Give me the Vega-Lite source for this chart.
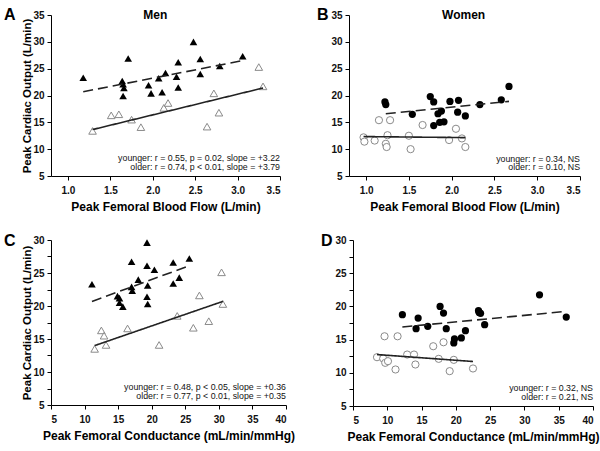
{
"$schema":"https://vega.github.io/schema/vega-lite/v6.json",
"padding":{"left":3,"top":7,"right":3,"bottom":3},
"spacing":21,
"datasets":{
"pts":[
{"p":"A","g":"younger","x":1.18,"y":23.3},{"p":"A","g":"younger","x":1.64,"y":22.7},{"p":"A","g":"younger","x":1.65,"y":22.1},{"p":"A","g":"younger","x":1.66,"y":21.4},{"p":"A","g":"younger","x":1.65,"y":19.9},{"p":"A","g":"younger","x":1.71,"y":26.9},{"p":"A","g":"younger","x":1.95,"y":21.9},{"p":"A","g":"younger","x":1.98,"y":20.4},{"p":"A","g":"younger","x":2.07,"y":23.2},{"p":"A","g":"younger","x":2.11,"y":20.6},{"p":"A","g":"younger","x":2.15,"y":24.2},{"p":"A","g":"younger","x":2.28,"y":23.5},{"p":"A","g":"younger","x":2.30,"y":26.2},{"p":"A","g":"younger","x":2.30,"y":21.5},{"p":"A","g":"younger","x":2.48,"y":30.0},{"p":"A","g":"younger","x":2.56,"y":26.8},{"p":"A","g":"younger","x":2.56,"y":24.0},{"p":"A","g":"younger","x":2.79,"y":25.5},{"p":"A","g":"younger","x":3.06,"y":27.3},
{"p":"A","g":"older","x":1.29,"y":13.4},{"p":"A","g":"older","x":1.51,"y":16.3},{"p":"A","g":"older","x":1.60,"y":16.5},{"p":"A","g":"older","x":1.75,"y":15.5},{"p":"A","g":"older","x":1.86,"y":14.1},{"p":"A","g":"older","x":2.13,"y":17.7},{"p":"A","g":"older","x":2.18,"y":18.6},{"p":"A","g":"older","x":2.64,"y":14.2},{"p":"A","g":"older","x":2.72,"y":20.4},{"p":"A","g":"older","x":2.78,"y":16.8},{"p":"A","g":"older","x":3.25,"y":25.3},{"p":"A","g":"older","x":3.30,"y":21.7},
{"p":"B","g":"younger","x":1.22,"y":18.8},{"p":"B","g":"younger","x":1.23,"y":18.3},{"p":"B","g":"younger","x":1.54,"y":16.5},{"p":"B","g":"younger","x":1.75,"y":19.8},{"p":"B","g":"younger","x":1.79,"y":18.8},{"p":"B","g":"younger","x":1.79,"y":14.4},{"p":"B","g":"younger","x":1.84,"y":16.6},{"p":"B","g":"younger","x":1.88,"y":17.1},{"p":"B","g":"younger","x":1.86,"y":15.0},{"p":"B","g":"younger","x":1.91,"y":15.1},{"p":"B","g":"younger","x":1.98,"y":18.9},{"p":"B","g":"younger","x":2.08,"y":19.1},{"p":"B","g":"younger","x":2.07,"y":16.9},{"p":"B","g":"younger","x":2.16,"y":16.2},{"p":"B","g":"younger","x":2.33,"y":18.3},{"p":"B","g":"younger","x":2.58,"y":19.2},{"p":"B","g":"younger","x":2.67,"y":21.7},
{"p":"B","g":"older","x":0.97,"y":12.2},{"p":"B","g":"older","x":0.98,"y":11.4},{"p":"B","g":"older","x":1.10,"y":11.6},{"p":"B","g":"older","x":1.15,"y":15.4},{"p":"B","g":"older","x":1.25,"y":12.6},{"p":"B","g":"older","x":1.23,"y":11.0},{"p":"B","g":"older","x":1.24,"y":10.4},{"p":"B","g":"older","x":1.28,"y":15.4},{"p":"B","g":"older","x":1.50,"y":12.5},{"p":"B","g":"older","x":1.52,"y":10.0},{"p":"B","g":"older","x":1.66,"y":14.5},{"p":"B","g":"older","x":1.97,"y":11.7},{"p":"B","g":"older","x":2.05,"y":13.8},{"p":"B","g":"older","x":2.12,"y":12.0},{"p":"B","g":"older","x":2.16,"y":10.4},
{"p":"C","g":"younger","x":11.1,"y":23.3},{"p":"C","g":"younger","x":14.9,"y":21.5},{"p":"C","g":"younger","x":15.2,"y":21.2},{"p":"C","g":"younger","x":15.2,"y":20.5},{"p":"C","g":"younger","x":15.7,"y":19.9},{"p":"C","g":"younger","x":17.0,"y":26.7},{"p":"C","g":"younger","x":17.0,"y":22.9},{"p":"C","g":"younger","x":17.1,"y":22.3},{"p":"C","g":"younger","x":18.0,"y":24.0},{"p":"C","g":"younger","x":19.3,"y":29.6},{"p":"C","g":"younger","x":19.3,"y":26.1},{"p":"C","g":"younger","x":19.4,"y":23.1},{"p":"C","g":"younger","x":19.3,"y":21.4},{"p":"C","g":"younger","x":19.4,"y":20.3},{"p":"C","g":"younger","x":20.4,"y":25.5},{"p":"C","g":"younger","x":23.2,"y":26.6},{"p":"C","g":"younger","x":23.2,"y":23.4},{"p":"C","g":"younger","x":24.1,"y":24.3},{"p":"C","g":"younger","x":25.6,"y":27.2},
{"p":"C","g":"older","x":11.5,"y":13.5},{"p":"C","g":"older","x":12.5,"y":16.3},{"p":"C","g":"older","x":12.9,"y":15.5},{"p":"C","g":"older","x":13.2,"y":14.1},{"p":"C","g":"older","x":16.4,"y":16.6},{"p":"C","g":"older","x":21.1,"y":14.1},{"p":"C","g":"older","x":23.8,"y":18.5},{"p":"C","g":"older","x":26.2,"y":16.7},{"p":"C","g":"older","x":27.1,"y":21.6},{"p":"C","g":"older","x":28.5,"y":17.7},{"p":"C","g":"older","x":30.4,"y":25.1},{"p":"C","g":"older","x":30.6,"y":20.3},
{"p":"D","g":"younger","x":12.2,"y":18.75},{"p":"D","g":"younger","x":14.5,"y":18.25},{"p":"D","g":"younger","x":14.2,"y":16.65},{"p":"D","g":"younger","x":15.9,"y":17.0},{"p":"D","g":"younger","x":17.7,"y":20.0},{"p":"D","g":"younger","x":18.2,"y":19.0},{"p":"D","g":"younger","x":18.6,"y":16.65},{"p":"D","g":"younger","x":19.7,"y":14.5},{"p":"D","g":"younger","x":19.8,"y":15.1},{"p":"D","g":"younger","x":20.8,"y":15.25},{"p":"D","g":"younger","x":21.4,"y":16.35},{"p":"D","g":"younger","x":23.3,"y":19.35},{"p":"D","g":"younger","x":23.6,"y":18.95},{"p":"D","g":"younger","x":23.4,"y":19.1},{"p":"D","g":"younger","x":24.2,"y":17.25},{"p":"D","g":"younger","x":32.2,"y":21.75},{"p":"D","g":"younger","x":36.1,"y":18.4},
{"p":"D","g":"older","x":8.5,"y":12.35},{"p":"D","g":"older","x":9.4,"y":12.15},{"p":"D","g":"older","x":9.6,"y":15.5},{"p":"D","g":"older","x":9.7,"y":11.5},{"p":"D","g":"older","x":10.1,"y":11.75},{"p":"D","g":"older","x":11.2,"y":10.5},{"p":"D","g":"older","x":11.5,"y":15.5},{"p":"D","g":"older","x":12.9,"y":12.75},{"p":"D","g":"older","x":13.9,"y":12.75},{"p":"D","g":"older","x":14.1,"y":11.25},{"p":"D","g":"older","x":16.7,"y":14.0},{"p":"D","g":"older","x":18.2,"y":14.6},{"p":"D","g":"older","x":17.5,"y":12.1},{"p":"D","g":"older","x":19.1,"y":10.25},{"p":"D","g":"older","x":19.7,"y":11.95},{"p":"D","g":"older","x":22.5,"y":10.65}
],
"fits":[
{"p":"A","g":"younger","x":1.18,"y":20.7},{"p":"A","g":"younger","x":3.06,"y":26.5},{"p":"A","g":"older","x":1.29,"y":13.65},{"p":"A","g":"older","x":3.30,"y":21.4},
{"p":"B","g":"younger","x":1.23,"y":16.6},{"p":"B","g":"younger","x":2.67,"y":18.9},{"p":"B","g":"older","x":0.97,"y":12.35},{"p":"B","g":"older","x":2.16,"y":12.15},
{"p":"C","g":"younger","x":11.1,"y":20.7},{"p":"C","g":"younger","x":25.6,"y":26.1},{"p":"C","g":"older","x":11.5,"y":14.0},{"p":"C","g":"older","x":30.6,"y":20.7},
{"p":"D","g":"younger","x":12.2,"y":16.9},{"p":"D","g":"younger","x":36.1,"y":19.25},{"p":"D","g":"older","x":8.5,"y":12.75},{"p":"D","g":"older","x":22.5,"y":11.7}
],
"notes":[
{"p":"A","t":"younger: r = 0.55, p = 0.02, slope = +3.22","x":3.5,"y":8.4},{"p":"A","t":"older: r = 0.74, p < 0.01, slope = +3.79","x":3.5,"y":6.6},
{"p":"B","t":"younger: r = 0.34, NS","x":3.5,"y":8.25},{"p":"B","t":"older: r = 0.10, NS","x":3.5,"y":6.6},
{"p":"C","t":"younger: r = 0.48, p < 0.05, slope = +0.36","x":40,"y":7.8},{"p":"C","t":"older: r = 0.77, p < 0.01, slope = +0.35","x":40,"y":6.4},
{"p":"D","t":"younger: r = 0.32, NS","x":40,"y":7.75},{"p":"D","t":"older: r = 0.21, NS","x":40,"y":6.4}
],
"heads":[{"p":"A","t":"Men","x":2.03,"y":35},{"p":"B","t":"Women","x":2.14,"y":35}]
},
"vconcat":[
{"spacing":35,"hconcat":[
{"width":229,"height":161,
"title":{"text":"A","anchor":"start","frame":"bounds","dx":-18,"offset":-14},
"encoding":{
"x":{"field":"x","type":"quantitative","scale":{"domain":[0.8,3.5],"nice":false,"zero":false},"axis":{"values":[1,1.5,2,2.5,3,3.5],"format":".1f","title":"Peak Femoral Blood Flow (L/min)"}},
"y":{"field":"y","type":"quantitative","scale":{"domain":[5,35],"nice":false,"zero":false},"axis":{"values":[5,10,15,20,25,30,35],"title":"Peak Cardiac Output (L/min)"}}},
"layer":[
{"data":{"name":"pts"},"transform":[{"filter":"datum.p==='A' && datum.g==='older'"}],"mark":{"type":"point","shape":"triangle-up","filled":true,"fill":"white","stroke":"#8a8a8a","strokeWidth":1,"size":58,"opacity":1}},
{"data":{"name":"pts"},"transform":[{"filter":"datum.p==='A' && datum.g==='younger'"}],"mark":{"type":"point","shape":"triangle-up","filled":true,"color":"#000","size":58,"opacity":1}},
{"data":{"name":"fits"},"transform":[{"filter":"datum.p==='A'"}],"mark":{"type":"line","color":"#222","strokeWidth":1.6},"encoding":{"detail":{"field":"g"},"strokeDash":{"field":"g","type":"nominal","scale":{"domain":["younger","older"],"range":[[10,5],[1,0]]},"legend":null}}},
{"data":{"name":"notes"},"transform":[{"filter":"datum.p==='A'"}],"mark":{"type":"text","align":"right","baseline":"middle","fontSize":8.8,"color":"#111"},"encoding":{"text":{"field":"t"}}},
{"data":{"name":"heads"},"transform":[{"filter":"datum.p==='A'"}],"mark":{"type":"text","align":"center","baseline":"middle","fontSize":12,"fontWeight":"bold","color":"#000"},"encoding":{"text":{"field":"t"}}}
]},
{"width":231,"height":161,
"title":{"text":"B","anchor":"start","frame":"bounds","dx":-14,"offset":-14},
"encoding":{
"x":{"field":"x","type":"quantitative","scale":{"domain":[0.8,3.5],"nice":false,"zero":false},"axis":{"values":[1,1.5,2,2.5,3,3.5],"format":".1f","title":"Peak Femoral Blood Flow (L/min)"}},
"y":{"field":"y","type":"quantitative","scale":{"domain":[5,35],"nice":false,"zero":false},"axis":{"values":[5,10,15,20,25,30,35],"title":null}}},
"layer":[
{"data":{"name":"pts"},"transform":[{"filter":"datum.p==='B' && datum.g==='older'"}],"mark":{"type":"point","shape":"circle","filled":true,"fill":"white","stroke":"#8a8a8a","strokeWidth":1,"size":52,"opacity":1}},
{"data":{"name":"pts"},"transform":[{"filter":"datum.p==='B' && datum.g==='younger'"}],"mark":{"type":"point","shape":"circle","filled":true,"color":"#000","size":52,"opacity":1}},
{"data":{"name":"fits"},"transform":[{"filter":"datum.p==='B'"}],"mark":{"type":"line","color":"#222","strokeWidth":1.6},"encoding":{"detail":{"field":"g"},"strokeDash":{"field":"g","type":"nominal","scale":{"domain":["younger","older"],"range":[[10,5],[1,0]]},"legend":null}}},
{"data":{"name":"notes"},"transform":[{"filter":"datum.p==='B'"}],"mark":{"type":"text","align":"right","baseline":"middle","fontSize":8.8,"color":"#111"},"encoding":{"text":{"field":"t"}}},
{"data":{"name":"heads"},"transform":[{"filter":"datum.p==='B'"}],"mark":{"type":"text","align":"center","baseline":"middle","fontSize":12,"fontWeight":"bold","color":"#000"},"encoding":{"text":{"field":"t"}}}
]}
]},
{"spacing":25,"hconcat":[
{"width":235,"height":165,
"title":{"text":"C","anchor":"start","frame":"bounds","dx":-18,"offset":-14},
"encoding":{
"x":{"field":"x","type":"quantitative","scale":{"domain":[5,40],"nice":false,"zero":false},"axis":{"values":[5,10,15,20,25,30,35,40],"title":"Peak Femoral Conductance (mL/min/mmHg)"}},
"y":{"field":"y","type":"quantitative","scale":{"domain":[5,30],"nice":false,"zero":false},"axis":{"values":[5,7.5,10,12.5,15,17.5,20,22.5,25,27.5,30],"labelExpr":"datum.value % 5 === 0 ? datum.label : ''","title":"Peak Cardiac Output (L/min)"}}},
"layer":[
{"data":{"name":"pts"},"transform":[{"filter":"datum.p==='C' && datum.g==='older'"}],"mark":{"type":"point","shape":"triangle-up","filled":true,"fill":"white","stroke":"#8a8a8a","strokeWidth":1,"size":58,"opacity":1}},
{"data":{"name":"pts"},"transform":[{"filter":"datum.p==='C' && datum.g==='younger'"}],"mark":{"type":"point","shape":"triangle-up","filled":true,"color":"#000","size":58,"opacity":1}},
{"data":{"name":"fits"},"transform":[{"filter":"datum.p==='C'"}],"mark":{"type":"line","color":"#222","strokeWidth":1.6},"encoding":{"detail":{"field":"g"},"strokeDash":{"field":"g","type":"nominal","scale":{"domain":["younger","older"],"range":[[10,5],[1,0]]},"legend":null}}},
{"data":{"name":"notes"},"transform":[{"filter":"datum.p==='C'"}],"mark":{"type":"text","align":"right","baseline":"middle","fontSize":8.8,"color":"#111"},"encoding":{"text":{"field":"t"}}}
]},
{"width":240,"height":166,
"title":{"text":"D","anchor":"start","frame":"bounds","dx":-14,"offset":-14},
"encoding":{
"x":{"field":"x","type":"quantitative","scale":{"domain":[5,40],"nice":false,"zero":false},"axis":{"values":[5,10,15,20,25,30,35,40],"title":"Peak Femoral Conductance (mL/min/mmHg)"}},
"y":{"field":"y","type":"quantitative","scale":{"domain":[5,30],"nice":false,"zero":false},"axis":{"values":[5,7.5,10,12.5,15,17.5,20,22.5,25,27.5,30],"labelExpr":"datum.value % 5 === 0 ? datum.label : ''","title":null}}},
"layer":[
{"data":{"name":"pts"},"transform":[{"filter":"datum.p==='D' && datum.g==='older'"}],"mark":{"type":"point","shape":"circle","filled":true,"fill":"white","stroke":"#8a8a8a","strokeWidth":1,"size":52,"opacity":1}},
{"data":{"name":"pts"},"transform":[{"filter":"datum.p==='D' && datum.g==='younger'"}],"mark":{"type":"point","shape":"circle","filled":true,"color":"#000","size":52,"opacity":1}},
{"data":{"name":"fits"},"transform":[{"filter":"datum.p==='D'"}],"mark":{"type":"line","color":"#222","strokeWidth":1.6},"encoding":{"detail":{"field":"g"},"strokeDash":{"field":"g","type":"nominal","scale":{"domain":["younger","older"],"range":[[10,5],[1,0]]},"legend":null}}},
{"data":{"name":"notes"},"transform":[{"filter":"datum.p==='D'"}],"mark":{"type":"text","align":"right","baseline":"middle","fontSize":8.8,"color":"#111"},"encoding":{"text":{"field":"t"}}}
]}
]}
],
"config":{
"font":"Liberation Sans",
"view":{"stroke":null},
"axis":{"grid":false,"domainColor":"#000","tickColor":"#000","labelColor":"#111","titleColor":"#000","labelFont":"Liberation Sans","titleFont":"Liberation Sans","labelFontSize":10,"labelFontWeight":"bold","titleFontSize":11.5,"titleFontWeight":"bold","tickSize":4,"labelPadding":3,"titlePadding":0,"domainWidth":1,"tickWidth":1},
"axisX":{"labelPadding":5,"titlePadding":6,"titleFontSize":12},
"title":{"font":"Liberation Sans","fontSize":16,"fontWeight":"bold","color":"#000"},
"text":{"font":"Liberation Sans"}
}
}
